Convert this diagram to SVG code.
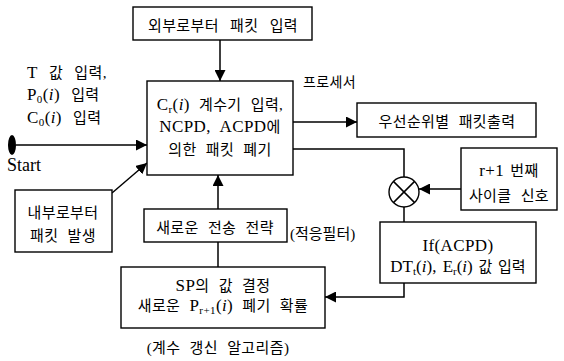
<svg xmlns="http://www.w3.org/2000/svg" width="564" height="361" viewBox="0 0 564 361">
<style>
  .box { fill: #fff; stroke: #000; stroke-width: 1.4; }
  .ln { fill: none; stroke: #000; stroke-width: 1.5; }
  text { font-family: "Liberation Serif", "Noto Sans CJK KR", serif; font-size: 15px; fill: #000; word-spacing: 5px; letter-spacing: 0.4px; }
  .c { text-anchor: middle; }
  .L { font-size: 17px; }
  .sub { font-size: 11px; }
  .it { font-style: italic; }
</style>
<defs>
  <marker id="arrB" viewBox="0 0 10 10" refX="10" refY="5" markerWidth="11" markerHeight="11" markerUnits="userSpaceOnUse" orient="auto">
    <path d="M0,0 L10,5 L0,10 z" fill="#000"/>
  </marker>
</defs>
<rect width="564" height="361" fill="#fff"/>

<g id="connectors">
  <line class="ln" x1="220" y1="40" x2="220" y2="81" marker-end="url(#arrB)"/>
  <line class="ln" x1="16" y1="145" x2="147" y2="145" marker-end="url(#arrB)"/>
  <line class="ln" x1="112" y1="193" x2="147" y2="163" marker-end="url(#arrB)"/>
  <line class="ln" x1="293" y1="122" x2="357" y2="122" marker-end="url(#arrB)"/>
  <path class="ln" d="M293,149 H404 V177"/>
  <line class="ln" x1="461" y1="189" x2="419" y2="189" marker-end="url(#arrB)"/>
  <line class="ln" x1="404" y1="207" x2="404" y2="222"/>
  <path class="ln" d="M404,283 V297 H325" marker-end="url(#arrB)"/>
  <line class="ln" x1="218" y1="267" x2="218" y2="242"/>
  <line class="ln" x1="218" y1="209" x2="218" y2="175" marker-end="url(#arrB)"/>
</g>

<g id="start">
  <ellipse cx="12" cy="145" rx="4" ry="10" fill="#000"/>
  <text x="7" y="171" style="font-size:18px;letter-spacing:0">Start</text>
</g>

<g id="inputs-label">
  <text x="27" y="78" style="word-spacing:7px"><tspan class="L">T</tspan> 값 입력,</text>
  <text x="27" y="100" style="word-spacing:7px"><tspan class="L">P</tspan><tspan class="sub" dy="3">0</tspan><tspan class="L" dy="-3">(<tspan class="it">i</tspan>)</tspan> 입력</text>
  <text x="27" y="123" style="word-spacing:7px"><tspan class="L">C</tspan><tspan class="sub" dy="3">0</tspan><tspan class="L" dy="-3">(<tspan class="it">i</tspan>)</tspan> 입력</text>
</g>

<g id="external">
  <rect class="box" x="133" y="7" width="179" height="33"/>
  <text class="c" x="223" y="31" style="word-spacing:7px">외부로부터 패킷 입력</text>
</g>

<g id="processor">
  <rect class="box" x="147" y="81" width="146" height="94"/>
  <text class="c" x="220" y="110"><tspan class="L">C</tspan><tspan class="sub" dy="3">r</tspan><tspan class="L" dy="-3">(<tspan class="it">i</tspan>)</tspan> 계수기 입력,</text>
  <text class="c" x="220" y="132"><tspan class="L">NCPD, ACPD</tspan>에</text>
  <text class="c" x="220" y="155">의한 패킷 폐기</text>
  <text x="303" y="87" style="font-size:14px">프로세서</text>
</g>

<g id="output">
  <rect class="box" x="357" y="103" width="179" height="34"/>
  <text class="c" x="447" y="127">우선순위별 패킷출력</text>
</g>

<g id="multiplier">
  <circle cx="404" cy="192" r="15" fill="#fff" stroke="#000" stroke-width="1.4"/>
  <line class="ln" x1="393.4" y1="181.4" x2="414.6" y2="202.6"/>
  <line class="ln" x1="414.6" y1="181.4" x2="393.4" y2="202.6"/>
</g>

<g id="cycle">
  <rect class="box" x="461" y="148" width="96" height="62"/>
  <text class="c" x="509" y="176" style="word-spacing:2px"><tspan class="L">r+1</tspan> 번째</text>
  <text class="c" x="509" y="201">사이클 신호</text>
</g>

<g id="ifacpd">
  <rect class="box" x="380" y="222" width="156" height="61"/>
  <text class="c" x="458" y="251"><tspan class="L">If(ACPD)</tspan></text>
  <text class="c" x="458" y="272" style="word-spacing:2px;letter-spacing:0"><tspan class="L">DT</tspan><tspan class="sub" dy="3">t</tspan><tspan class="L" dy="-3">(<tspan class="it">i</tspan>), E</tspan><tspan class="sub" dy="3">r</tspan><tspan class="L" dy="-3">(<tspan class="it">i</tspan>)</tspan> 값 입력</text>
</g>

<g id="internal">
  <rect class="box" x="15" y="190" width="97" height="62"/>
  <text class="c" x="63" y="218">내부로부터</text>
  <text class="c" x="63" y="241">패킷 발생</text>
</g>

<g id="strategy">
  <rect class="box" x="144" y="209" width="143" height="33"/>
  <text class="c" x="215" y="233">새로운 전송 전략</text>
  <text x="290" y="239" style="letter-spacing:0">(적응필터)</text>
</g>

<g id="sp">
  <rect class="box" x="121" y="267" width="204" height="61"/>
  <text class="c" x="223" y="291"><tspan class="L">SP</tspan>의 값 결정</text>
  <text class="c" x="223" y="311">새로운 <tspan class="L">P</tspan><tspan class="sub" dy="3">r+1</tspan><tspan class="L" dy="-3">(<tspan class="it">i</tspan>)</tspan> 폐기 확률</text>
  <text class="c" x="218" y="353">(계수 갱신 알고리즘)</text>
</g>
</svg>
